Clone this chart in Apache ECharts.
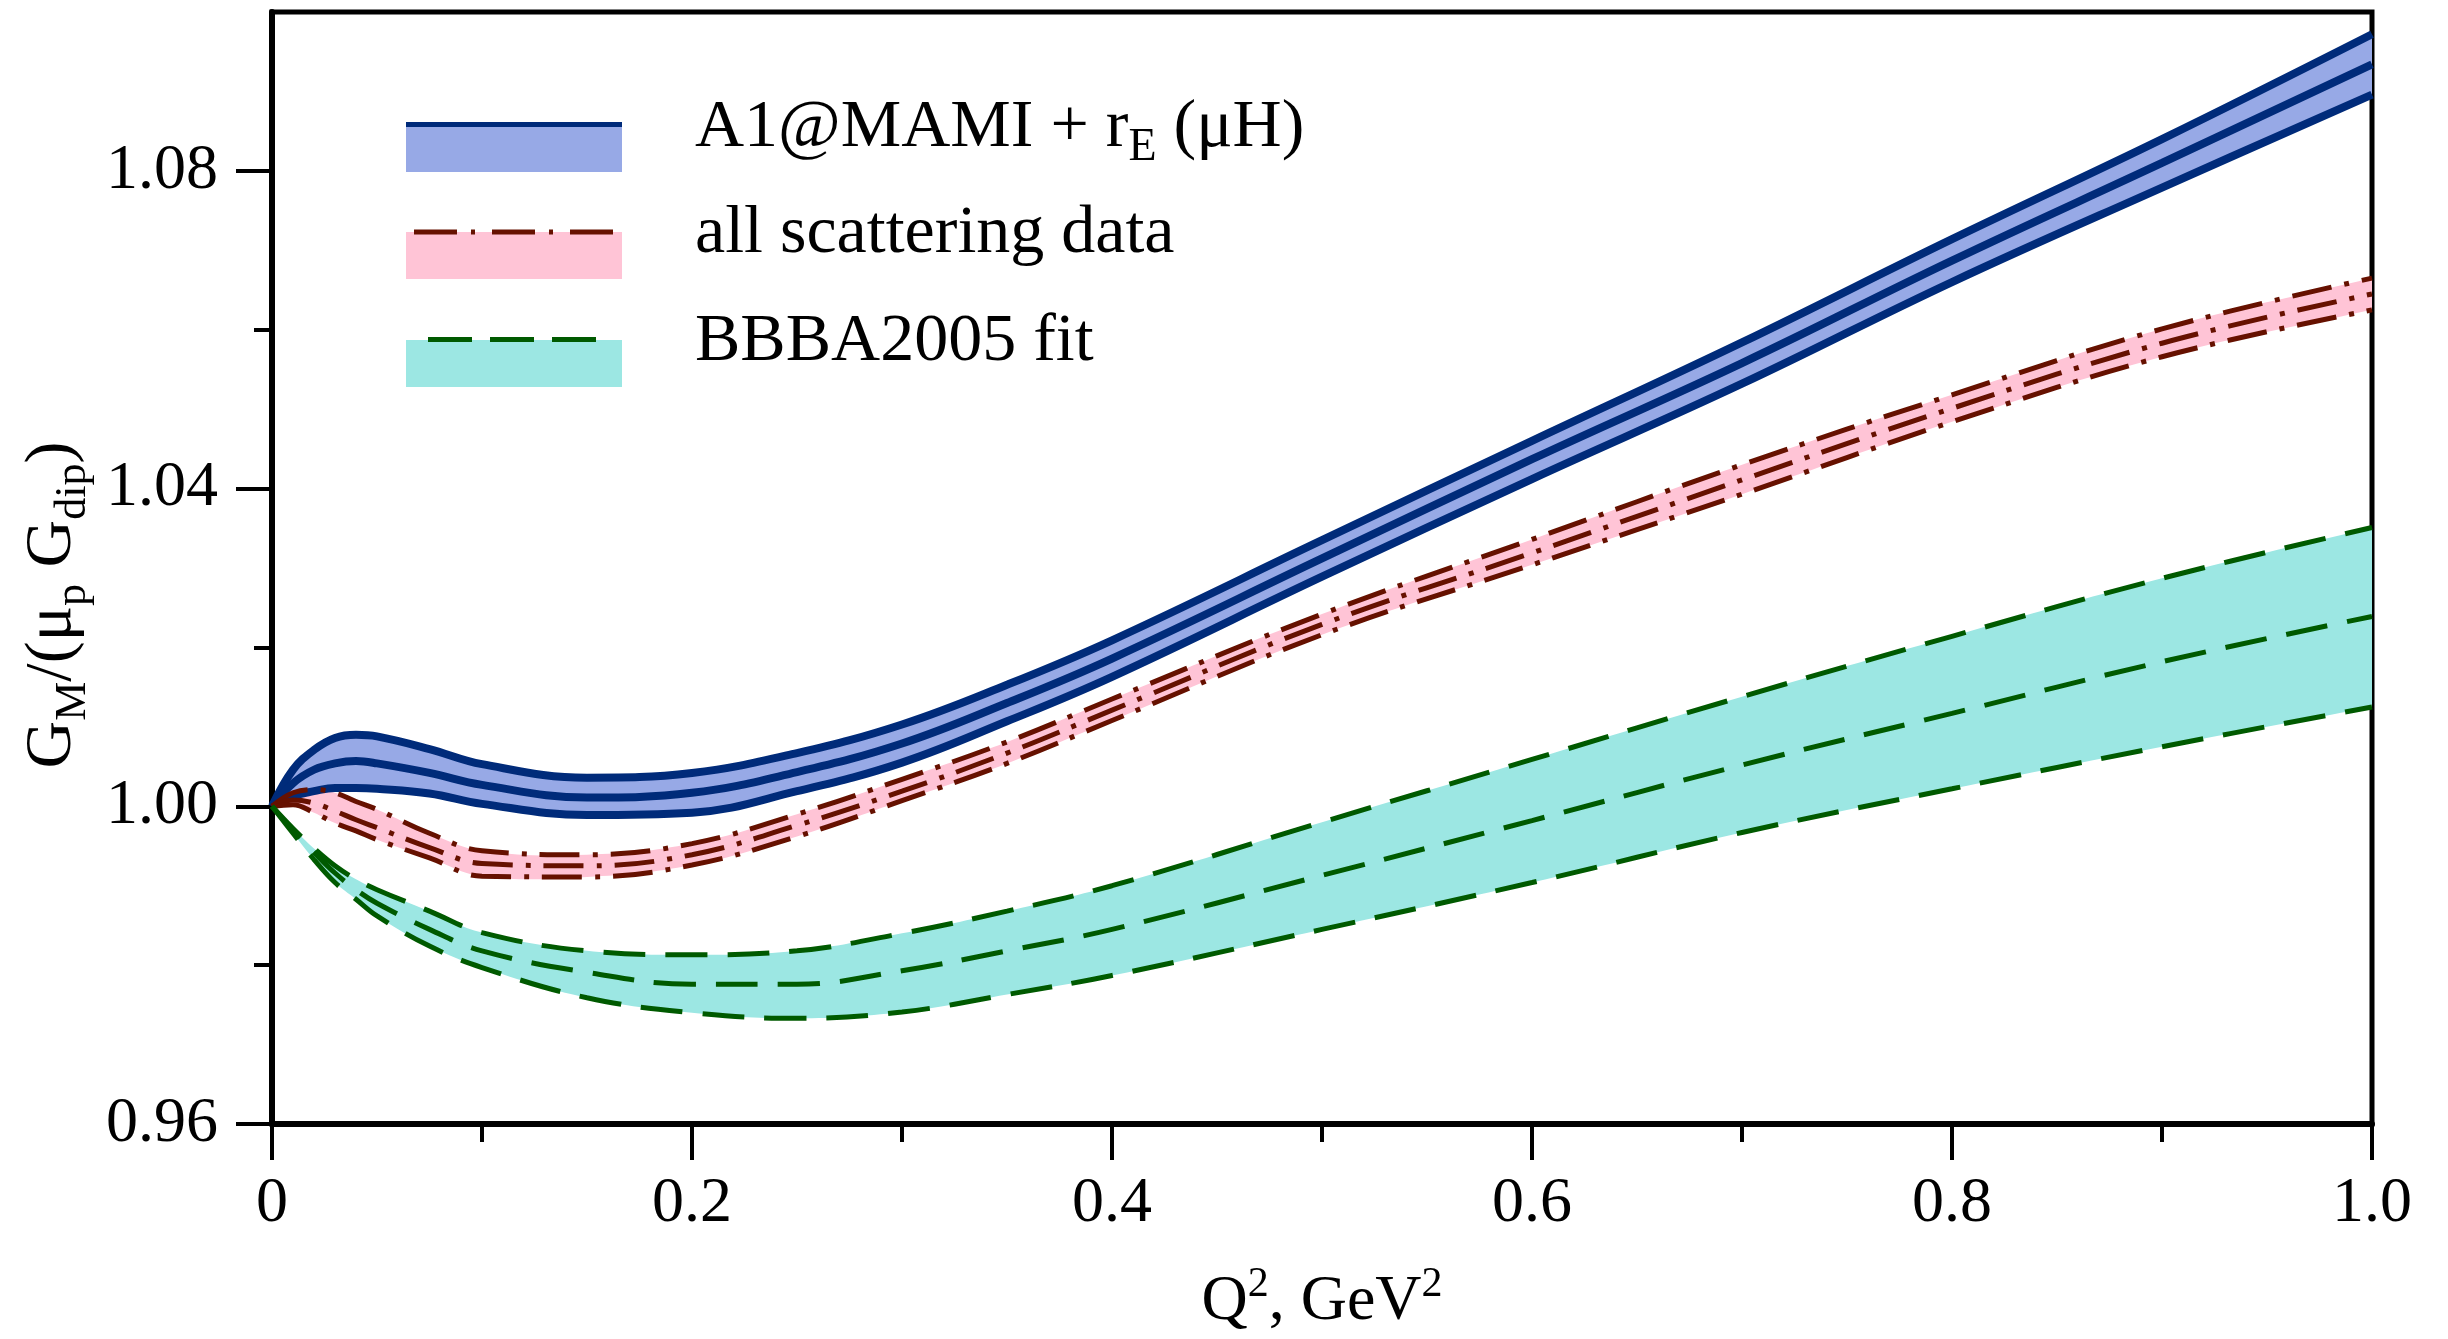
<!DOCTYPE html>
<html>
<head>
<meta charset="utf-8">
<script src="https://cdn.jsdelivr.net/npm/echarts@6/dist/echarts.min.js"></script>
<style>
  html, body { margin: 0; padding: 0; background: #fff; }
  #chart { width: 2448px; height: 1339px; }
</style>
</head>
<body>
<div id="chart"></div>
<script>
// Q^2 sample points (GeV^2)
var q2 = [0, 0.01, 0.02, 0.03, 0.04, 0.05, 0.075, 0.1, 0.15, 0.2, 0.25, 0.3, 0.35, 0.4, 0.5, 0.6, 0.7, 0.8, 0.9, 1.0];

// A1@MAMI + rE (muH)
var blueUpper = [1.0000, 1.0046, 1.0071, 1.0086, 1.0090, 1.0088, 1.0072, 1.0053, 1.0036, 1.0042, 1.0067, 1.0103, 1.0153, 1.0209, 1.0335, 1.0460, 1.0584, 1.0714, 1.0840, 1.0972];
var blueMid   = [1.0000, 1.0029, 1.0046, 1.0054, 1.0057, 1.0054, 1.0042, 1.0027, 1.0011, 1.0017, 1.0043, 1.0079, 1.0130, 1.0186, 1.0312, 1.0437, 1.0558, 1.0687, 1.0810, 1.0934];
var blueLower = [1.0000, 1.0013, 1.0019, 1.0023, 1.0023, 1.0022, 1.0016, 1.0003, 0.9989, 0.9992, 1.0019, 1.0055, 1.0107, 1.0163, 1.0289, 1.0412, 1.0532, 1.0660, 1.0779, 1.0896];

// all scattering data
var redUpper = [1.0000, 1.0017, 1.0021, 1.0017, 1.0006, 0.9996, 0.9966, 0.9944, 0.9939, 0.9953, 0.9990, 1.0034, 1.0081, 1.0135, 1.0242, 1.0336, 1.0430, 1.0518, 1.0601, 1.0665];
var redMid   = [1.0000, 1.0008, 1.0004, 0.9994, 0.9983, 0.9973, 0.9948, 0.9928, 0.9925, 0.9939, 0.9976, 1.0019, 1.0067, 1.0121, 1.0229, 1.0319, 1.0411, 1.0501, 1.0583, 1.0645];
var redLower = [1.0000, 1.0002, 0.9992, 0.9979, 0.9969, 0.9958, 0.9935, 0.9912, 0.9911, 0.9926, 0.9962, 1.0007, 1.0054, 1.0108, 1.0216, 1.0304, 1.0393, 1.0484, 1.0566, 1.0625];

// BBBA2005 fit
var greenUpper = [1.0000, 0.9972, 0.9947, 0.9925, 0.9908, 0.9895, 0.9868, 0.9841, 0.9818, 0.9813, 0.9818, 0.9840, 0.9868, 0.9900, 0.9980, 1.0059, 1.0138, 1.0214, 1.0287, 1.0351];
var greenMid   = [1.0000, 0.9970, 0.9942, 0.9916, 0.9895, 0.9878, 0.9845, 0.9818, 0.9791, 0.9776, 0.9776, 0.9793, 0.9818, 0.9845, 0.9913, 0.9982, 1.0052, 1.0117, 1.0182, 1.0239];
var greenLower = [1.0000, 0.9966, 0.9933, 0.9904, 0.9883, 0.9862, 0.9824, 0.9797, 0.9759, 0.9740, 0.9733, 0.9741, 0.9763, 0.9787, 0.9845, 0.9904, 0.9967, 1.0022, 1.0075, 1.0125];

var yMajorTicks = [0.96, 1.00, 1.04, 1.08];
var yMinorTicks = [0.98, 1.02, 1.06];

var FONT = 'Liberation Serif';
var navy = '#002b7a', blueFill = '#97a9e6';
var maroon = '#661100', pinkFill = '#ffc4d6';
var dkgreen = '#005a00', cyanFill = '#9ce7e3';
var SMOOTH = 0.4;

function pairs(arr) {
    return q2.map(function (x, i) { return [x, arr[i]]; });
}

// filled band between lower and upper curve, drawn through the axis scales
function band(lower, upper, fill) {
    return {
        type: 'custom', silent: true, clip: true,
        data: [0],
        renderItem: function (params, api) {
            var n = q2.length, pts = [];
            for (var i = 0; i < n; i++) pts.push(api.coord([q2[i], upper[i]]));
            // repeat the end points so the smoothing keeps a square right edge
            pts.push(api.coord([q2[n - 1], upper[n - 1]]));
            pts.push(api.coord([q2[n - 1], lower[n - 1]]));
            for (var j = n - 1; j >= 0; j--) pts.push(api.coord([q2[j], lower[j]]));
            return {
                type: 'polygon',
                shape: { points: pts, smooth: SMOOTH },
                style: { fill: fill, stroke: null }
            };
        }
    };
}

function curve(arr, color, width, dash) {
    return {
        type: 'line', data: pairs(arr), smooth: SMOOTH, symbol: 'none', silent: true,
        lineStyle: { color: color, width: width, type: dash, cap: 'butt' }
    };
}

var redDash = [40, 13, 5, 13];
var greenDash = [42, 20];

var series = [
    band(blueLower, blueUpper, blueFill),
    curve(blueUpper, navy, 8, 'solid'), curve(blueMid, navy, 8, 'solid'), curve(blueLower, navy, 8, 'solid'),
    band(redLower, redUpper, pinkFill),
    curve(redUpper, maroon, 5, redDash), curve(redMid, maroon, 5, redDash), curve(redLower, maroon, 5, redDash),
    band(greenLower, greenUpper, cyanFill),
    curve(greenUpper, dkgreen, 5, greenDash), curve(greenMid, dkgreen, 5, greenDash), curve(greenLower, dkgreen, 5, greenDash)
];

// legend drawn by hand: filled swatch with the line style on top
var legendX = 406, legendW = 216, textX = 695;
var legendItems = [
    { y: 122, h: 50, fill: blueFill, stroke: navy, dash: null, x1: 406, x2: 622, ly: 124.5,
      text: '{n|A1@MAMI + r}{s|E}{n| (μH)}', ty: 128 },
    { y: 232, h: 47, fill: pinkFill, stroke: maroon, dash: [43, 14, 4, 17], x1: 414, x2: 614, ly: 232,
      text: '{n|all scattering data}', ty: 234 },
    { y: 340, h: 47, fill: cyanFill, stroke: dkgreen, dash: [44, 18], x1: 428, x2: 600, ly: 339.5,
      text: '{n|BBBA2005 fit}', ty: 342 }
];
var richText = {
    n: { fontFamily: FONT, fontSize: 68, lineHeight: 86, color: '#000' },
    s: { fontFamily: FONT, fontSize: 46, lineHeight: 44, verticalAlign: 'bottom', color: '#000' }
};
var graphics = [];
legendItems.forEach(function (it) {
    graphics.push({
        type: 'rect', shape: { x: legendX, y: it.y, width: legendW, height: it.h },
        style: { fill: it.fill }, silent: true
    });
    graphics.push({
        type: 'line', shape: { x1: it.x1, y1: it.ly, x2: it.x2, y2: it.ly },
        style: { stroke: it.stroke, lineWidth: 5, lineDash: it.dash }, silent: true
    });
    graphics.push({
        type: 'text', x: textX, y: it.ty, silent: true,
        style: { text: it.text, rich: richText, verticalAlign: 'middle', align: 'left' }
    });
});

var chartDom = document.getElementById('chart');
var myChart = echarts.init(chartDom);
var option = {
    backgroundColor: '#fff',
    animation: false,
    grid: {
        left: 272, right: 76, top: 12, bottom: 212,
        show: true, borderColor: '#000', borderWidth: 5, backgroundColor: 'transparent'
    },
    xAxis: {
        type: 'value', min: 0, max: 1, interval: 0.2,
        name: '{n|Q}{p|2}{n|, GeV}{p|2}',
        nameLocation: 'middle', nameGap: 140,
        nameTextStyle: {
            rich: {
                n: { fontFamily: FONT, fontSize: 64, lineHeight: 76, color: '#000' },
                p: { fontFamily: FONT, fontSize: 42, lineHeight: 42, verticalAlign: 'top', color: '#000' }
            }
        },
        axisLine: { show: true, lineStyle: { color: '#000', width: 6 } },
        axisTick: { show: true, inside: false, length: 36, lineStyle: { color: '#000', width: 4 } },
        minorTick: { show: true, splitNumber: 2, length: 18, lineStyle: { color: '#000', width: 4 } },
        splitLine: { show: false },
        axisLabel: {
            margin: 48, color: '#000', fontFamily: FONT, fontSize: 64,
            formatter: function (v) { return v === 0 ? '0' : v.toFixed(1); }
        }
    },
    yAxis: [{
        type: 'value', min: 0.96, max: 1.10, interval: 0.04,
        name: '{n|G}{s|M}{n|/(μ}{s|p}{n| G}{s|dip}{n|)}',
        nameLocation: 'middle', nameRotate: 90, nameGap: 175,
        nameTextStyle: {
            padding: [0, 74, 0, 0],
            rich: {
                n: { fontFamily: FONT, fontSize: 66, lineHeight: 84, color: '#000' },
                s: { fontFamily: FONT, fontSize: 44, lineHeight: 42, verticalAlign: 'bottom', color: '#000' }
            }
        },
        axisLine: { show: true, lineStyle: { color: '#000', width: 6 } },
        axisTick: { show: true, inside: false, length: 36, customValues: yMajorTicks, lineStyle: { color: '#000', width: 4 } },
        splitLine: { show: false },
        axisLabel: {
            margin: 54, color: '#000', fontFamily: FONT, fontSize: 64, customValues: yMajorTicks,
            formatter: function (v) { return v.toFixed(2); }
        }
    }, {
        type: 'value', min: 0.96, max: 1.10, position: 'left',
        axisLine: { show: false },
        axisTick: { show: true, inside: false, length: 18, customValues: yMinorTicks, lineStyle: { color: '#000', width: 4 } },
        axisLabel: { show: false },
        splitLine: { show: false }
    }],
    graphic: graphics,
    series: series
};
option && myChart.setOption(option);

window.addEventListener('resize', function () {
    myChart.resize();
});
</script>
</body>
</html>
